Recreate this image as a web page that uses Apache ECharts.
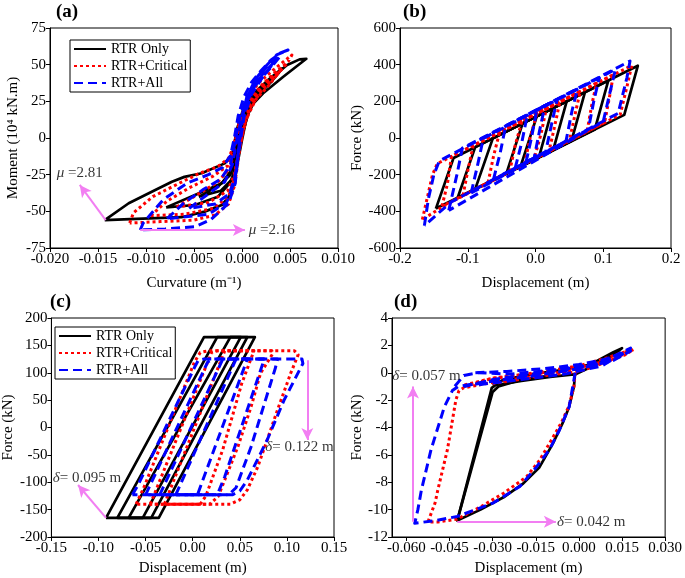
<!DOCTYPE html>
<html><head><meta charset="utf-8">
<script src="https://cdn.jsdelivr.net/npm/echarts@6/dist/echarts.min.js"></script>
<style>html,body{margin:0;padding:0;background:#fff}#c{width:685px;height:578px}</style>
</head><body><div id="c"></div>
<script>
const seriesNames = ['RTR Only', 'RTR+Critical', 'RTR+All'];
const panelTitles = ['(a)', '(b)', '(c)', '(d)'];
const xNames = ['Curvature (m\u207B\u00B9)', 'Displacement (m)', 'Displacement (m)', 'Displacement (m)'];
const yNames = ['Moment (10\u2074 kN.m)', 'Force (kN)', 'Force (kN)', 'Force (kN)'];
const dTickX = [-0.060, -0.045, -0.030, -0.015, 0.000, 0.015, 0.030];

// ---------- panel (a): moment-curvature ----------
const aOnly = [
  [[-0.0143,-56],[-0.0118,-44.5],[-0.0094,-36.6],[-0.0073,-29.8],[-0.0060,-26.5],[-0.0042,-24],[-0.0018,-17.3],[-0.0011,-11.6],[-0.0009,-8],[-0.00055,5.5],[0.0001,19],[0.0008,26],[0.0026,38.4],[0.0047,49.8],[0.0060,53.6],[0.0067,54],[0.0043,41.8],[0.0022,30.5],[0.0012,23.7],[0.0005,14.5],[0.0000,-1.4],[-0.0004,-15],[-0.0007,-27],[-0.0011,-37.7],[-0.0021,-45.7],[-0.0039,-50.2],[-0.0063,-54],[-0.0143,-56]],
  [[-0.0079,-47.3],[-0.0049,-38.9],[-0.0021,-30.9],[-0.0011,-21.8],[-0.0007,-5],[-0.0002,12],[0.0005,24],[0.0015,32],[0.0028,40],[0.0042,47.5],[0.0030,38],[0.0015,28],[0.0005,18],[-0.0002,2],[-0.0006,-14],[-0.0009,-25],[-0.0013,-31],[-0.0025,-40],[-0.0049,-45.7],[-0.0079,-47.3]],
  [[-0.0045,-40],[-0.0025,-33],[-0.0012,-25],[-0.0006,-8],[0,10],[0.0008,24],[0.0020,34],[0.0032,42],[0.0020,32],[0.0008,20],[0.0001,4],[-0.0005,-14],[-0.0010,-28],[-0.0022,-36],[-0.0045,-40]]
];
const aCritical = [
  [[-0.0117,-58],[-0.0113,-51],[-0.0093,-40],[-0.0065,-30.7],[-0.0044,-24],[-0.0026,-19.8],[-0.0014,-14],[-0.0009,-6],[-0.0004,8],[0.0002,20],[0.0008,30],[0.0018,38],[0.0032,46],[0.0045,53],[0.0052,56.6],[0.0048,52],[0.0034,43],[0.0020,34],[0.0010,25],[0.0003,12],[-0.0002,-5],[-0.0005,-20],[-0.0008,-33],[-0.0014,-45],[-0.0028,-52.5],[-0.0050,-56],[-0.0085,-57],[-0.0117,-58]],
  [[-0.0095,-53],[-0.0078,-43],[-0.0055,-34],[-0.0030,-26],[-0.0015,-19],[-0.0009,-10],[-0.0005,5],[0.0002,18],[0.0010,28],[0.0022,37],[0.0035,45],[0.0047,51],[0.0035,42],[0.0020,32],[0.0008,20],[0.0001,5],[-0.0004,-12],[-0.0008,-28],[-0.0014,-40],[-0.0030,-48],[-0.0060,-52],[-0.0095,-53]],
  [[-0.0068,-47],[-0.0045,-38],[-0.0025,-30],[-0.0012,-20],[-0.0006,0],[0.0002,16],[0.0012,28],[0.0025,38],[0.0040,46],[0.0028,36],[0.0014,26],[0.0004,12],[-0.0003,-8],[-0.0008,-25],[-0.0015,-36],[-0.0035,-44],[-0.0068,-47]]
];
const aAll = [
  [[-0.0106,-62.7],[-0.0103,-58],[-0.0082,-42],[-0.0057,-30.7],[-0.0035,-25],[-0.0020,-20],[-0.0012,-12],[-0.0008,0],[-0.0004,15],[0.0002,28],[0.0010,38],[0.0020,46],[0.0030,53],[0.0040,58],[0.0048,60],[0.0036,56.6],[0.0026,49.8],[0.0014,40],[0.0005,28],[-0.0001,10],[-0.0004,-10],[-0.0007,-30.8],[-0.0014,-44.5],[-0.0032,-55.4],[-0.0049,-60.5],[-0.0080,-62],[-0.0106,-62.7]],
  [[-0.0078,-55],[-0.0060,-44],[-0.0040,-35],[-0.0022,-28],[-0.0012,-18],[-0.0007,-2],[-0.0002,15],[0.0005,28],[0.0015,40],[0.0028,50],[0.0040,56],[0.0030,48],[0.0016,38],[0.0006,26],[0,10],[-0.0004,-10],[-0.0008,-30],[-0.0016,-44],[-0.0035,-52],[-0.0078,-55]],
  [[-0.0055,-48],[-0.0035,-38],[-0.0018,-30],[-0.0010,-18],[-0.0005,0],[0.0001,18],[0.0010,32],[0.0022,44],[0.0034,52],[0.0022,42],[0.0010,30],[0.0002,14],[-0.0003,-8],[-0.0007,-26],[-0.0013,-38],[-0.0028,-45],[-0.0055,-48]]
];

// ---------- panel (b) ----------
const bOnly = [
  [[-0.147,-385],[-0.121,-109],[0.151,394],[0.131,126],[-0.147,-385]],
  [[-0.115,-327],[-0.089,-50],[0.1075,314],[0.0875,46],[-0.115,-327]],
  [[-0.089,-279],[-0.063,-2],[0.073,250],[0.053,-17],[-0.089,-279]],
  [[-0.043,-194],[-0.019,80],[0.046,200],[0.026,-67],[-0.043,-194]],
  [[-0.022,-155],[0.002,119],[0.025,161],[0.005,-106],[-0.022,-155]]
];
const bCritical = [
  [[-0.167,-445],[-0.160,-330],[-0.152,-200],[-0.145,-140],[0.142,395],[0.135,280],[0.125,128],[-0.135,-370],[-0.167,-445]],
  [[-0.138,-372],[-0.130,-250],[-0.124,-100],[0.115,345],[0.110,240],[0.102,84],[-0.138,-372]],
  [[-0.107,-313],[-0.100,-180],[-0.092,-42],[0.090,298],[0.083,180],[0.076,34],[-0.107,-313]],
  [[-0.070,-243],[-0.062,-100],[-0.053,31],[0.066,253],[0.059,140],[0.050,-15],[-0.070,-243]],
  [[-0.038,-182],[-0.030,-40],[-0.020,93],[0.036,197],[0.028,60],[0.020,-72],[-0.038,-182]],
  [[-0.016,-140],[-0.008,0],[0.002,134],[0.016,160],[0.008,20],[-0.002,-114],[-0.016,-140]]
];
const bAll = [
  [[-0.164,-478],[-0.158,-330],[-0.150,-200],[-0.142,-125],[0.1395,420],[0.135,330],[0.122,135],[-0.125,-350],[-0.164,-478]],
  [[-0.128,-395],[-0.116,-200],[-0.108,-55],[0.118,374],[0.110,250],[0.100,90],[-0.128,-395]],
  [[-0.095,-300],[-0.085,-140],[-0.077,-2],[0.094,328],[0.086,200],[0.078,47],[-0.095,-300]],
  [[-0.062,-226],[-0.052,-80],[-0.044,66],[0.062,268],[0.054,150],[0.045,-17],[-0.062,-226]],
  [[-0.030,-164],[-0.020,-20],[-0.012,127],[0.032,211],[0.024,80],[0.015,-76],[-0.030,-164]],
  [[-0.014,-132],[-0.006,0],[0.002,154],[0.014,177],[0.006,40],[-0.002,-109],[-0.014,-132]]
];

// ---------- panel (c) ----------
const cOnly = [
  [[-0.092,-165],[0.012,165],[0.066,165],[-0.036,-165],[-0.092,-165]],
  [[-0.080,-165],[0.026,165],[0.058,165],[-0.044,-165],[-0.080,-165]],
  [[-0.068,-165],[0.040,165],[0.051,165],[-0.053,-165],[-0.068,-165]]
];
const cCritical = [
  [[-0.060,-140],[-0.052,-110],[0.002,120],[0.008,137],[0.016,140],[0.108,140],[0.112,133],[0.104,99],[0.090,32],[0.079,-23],[0.069,-72],[0.058,-114],[0.050,-132],[0.040,-140],[-0.060,-140]],
  [[-0.045,-140],[0.020,137],[0.026,140],[0.084,140],[0.085,135],[0.072,99],[0.062,38],[0.048,-35],[0.034,-96],[0.027,-126],[0.018,-140],[-0.045,-140]],
  [[-0.030,-140],[0.034,140],[0.065,140],[0.052,80],[0.032,-40],[0.014,-125],[0.008,-140],[-0.030,-140]]
];
const cAll = [
  [[-0.064,-123],[-0.058,-105],[0.002,110],[0.006,123],[0.012,125],[0.116,125],[0.117,117],[0.097,50],[0.079,-23],[0.058,-96],[0.050,-116],[0.042,-123],[-0.064,-123]],
  [[-0.050,-123],[0.016,120],[0.022,125],[0.090,125],[0.088,110],[0.062,-35],[0.046,-110],[0.038,-123],[-0.050,-123]],
  [[-0.035,-123],[0.032,125],[0.076,125],[0.034,-90],[0.026,-123],[-0.035,-123]],
  [[-0.018,-123],[0.046,125],[0.058,125],[0.005,-123],[-0.018,-123]]
];

// ---------- panel (d) ----------
const dOnly = [
  [[-0.0013,0.0],[-0.0017,-1.0],[-0.0034,-2.5],[-0.0057,-3.7],[-0.0091,-5.2],[-0.0137,-6.9],[-0.0194,-8.1],[-0.0262,-9.1],[-0.0342,-10.0],[-0.0423,-10.8],[-0.0303,-1.1],[-0.0290,-0.9],[-0.020,-0.6],[-0.010,-0.3],[-0.001,-0.1],[0.006,0.6],[0.012,1.3],[0.015,1.8],[0.012,1.5],[0.004,0.6],[-0.006,0.2],[-0.016,-0.1],[-0.026,-0.5],[-0.030,-0.9]],
  [[-0.0423,-10.8],[-0.0300,-1.4],[-0.0280,-1.0],[-0.020,-0.5],[-0.010,-0.2]]
];
const dCritical = [
  [[-0.0013,0],[-0.0017,-1.0],[-0.0034,-2.4],[-0.0060,-3.6],[-0.0095,-4.9],[-0.0137,-6.4],[-0.0182,-7.6],[-0.0262,-8.8],[-0.0342,-9.8],[-0.0424,-10.7],[-0.0490,-10.9],[-0.0525,-10.9],[-0.0500,-9.5],[-0.0491,-8.6],[-0.0457,-5.6],[-0.0428,-2.0],[-0.0417,-1.3],[-0.0400,-1.1],[-0.030,-0.7],[-0.020,-0.4],[-0.010,-0.1],[0.000,0.3],[0.008,0.8],[0.015,1.3],[0.019,1.7],[0.016,1.3],[0.008,0.7],[0.000,0.4],[-0.010,0.1],[-0.020,-0.2],[-0.030,-0.4],[-0.040,-0.9]],
  [[-0.040,-1.0],[-0.030,-0.4],[-0.015,0.0],[0.000,0.5],[0.010,1.1],[0.017,1.6],[0.010,0.8],[0.000,0.1],[-0.015,-0.3],[-0.030,-0.8]]
];
const dAll = [
  [[-0.0013,0],[-0.0017,-0.5],[-0.0034,-2.5],[-0.0068,-4.2],[-0.0102,-5.6],[-0.0148,-6.9],[-0.0205,-8.3],[-0.0297,-9.5],[-0.0423,-10.5],[-0.0500,-10.8],[-0.0571,-11.0],[-0.0560,-10.0],[-0.0548,-8.6],[-0.0514,-5.6],[-0.0468,-2.5],[-0.0440,-1.3],[-0.0420,-1.0],[-0.030,-0.6],[-0.020,-0.3],[-0.010,0.0],[0.000,0.3],[0.008,0.8],[0.014,1.4],[0.018,1.8],[0.014,1.2],[0.006,0.6],[-0.004,0.3],[-0.014,0.1],[-0.024,-0.1],[-0.035,0.0],[-0.040,-0.2],[-0.044,-1.2]],
  [[-0.040,-1.0],[-0.030,-0.5],[-0.010,0.1],[0.005,0.7],[0.012,1.2],[0.018,1.6],[0.012,0.9],[0.000,0.3],[-0.015,-0.2],[-0.030,-0.6],[-0.040,-1.0]],
  [[-0.036,0.0],[-0.025,0.1],[-0.012,0.3],[0.000,0.6],[0.010,1.0],[0.016,1.5],[0.008,0.5],[-0.005,-0.1],[-0.020,-0.5],[-0.036,-0.9]]
];

// ---------- annotations ----------
const arrows = [
  {panel: 0, from: [-0.0142, -56], to: [-0.0169, -32]},
  {panel: 0, from: [-0.0106, -62.7], to: [0.0003, -62.7]},
  {panel: 2, from: [-0.092, -165], to: [-0.1217, -105]},
  {panel: 2, from: [0.1217, 123], to: [0.1217, -23]},
  {panel: 3, from: [-0.0577, -10.88], to: [-0.0577, -1.0]},
  {panel: 3, from: [-0.0423, -10.88], to: [-0.0080, -10.88]}
];
const notes = [
  {panel: 0, at: [-0.0169, -23.9], sym: '\u03BC', text: ' =2.81'},
  {panel: 0, at: [0.0031, -62.7], sym: '\u03BC', text: ' =2.16'},
  {panel: 2, at: [-0.1122, -92], sym: '\u03B4', text: '= 0.095 m'},
  {panel: 2, at: [0.1133, -35.6], sym: '\u03B4', text: '= 0.122 m'},
  {panel: 3, at: [-0.0530, -0.24], sym: '\u03B4', text: '= 0.057 m'},
  {panel: 3, at: [0.0043, -10.9], sym: '\u03B4', text: '= 0.042 m'}
];

const FONT = 'Liberation Serif';
const PINK = '#f27ef2';
const grids = [
  {left: 50, top: 28, width: 288, height: 220},
  {left: 400, top: 28, width: 271, height: 220},
  {left: 48, top: 318, width: 286, height: 219},
  {left: 392, top: 318, width: 277, height: 219}
];
const xCfg = [
  {min: -0.02, max: 0.01, interval: 0.005, dec: 3},
  {min: -0.2, max: 0.2, interval: 0.1, dec: 1},
  {min: -0.15, max: 0.15, interval: 0.05, dec: 2},
  {min: -0.065, max: 0.03, dec: 3, custom: dTickX}
];
const yCfg = [
  {min: -75, max: 75, interval: 25},
  {min: -600, max: 600, interval: 200},
  {min: -200, max: 200, interval: 50},
  {min: -12, max: 4, interval: 2}
];
const xGap = [28, 28, 24, 24];
const yGap = [29, 35, 30, 21];

const styles = [
  {color: '#000000', width: 2.7, type: 'solid'},
  {color: '#ff0000', width: 3, type: [3, 3]},
  {color: '#0000ff', width: 3, type: [9, 5]}
];

const panels = [
  [aOnly, aCritical, aAll],
  [bOnly, bCritical, bAll],
  [cOnly, cCritical, cAll],
  [dOnly, dCritical, dAll]
];

const series = [];
panels.forEach((sets, p) => {
  sets.forEach((loops, s) => {
    loops.forEach(loop => {
      series.push({
        type: 'line', name: seriesNames[s], xAxisIndex: p, yAxisIndex: p,
        data: loop, symbol: 'none', smooth: false, silent: true, animation: false,
        lineStyle: {color: styles[s].color, width: styles[s].width, type: styles[s].type, cap: 'butt', join: 'round'},
        itemStyle: {color: styles[s].color},
        z: 2 + s
      });
    });
  });
});
// arrows and notes
for (let p = 0; p < 4; p++) {
  const list = arrows.filter(a => a.panel === p);
  if (list.length) {
    series.push({
      type: 'line', xAxisIndex: p, yAxisIndex: p, data: [], symbol: 'none', silent: true, animation: false, z: 6,
      markLine: {
        silent: true, animation: false, symbol: ['none', 'arrow'], symbolSize: [9, 12],
        lineStyle: {color: PINK, width: 2, type: 'solid'}, label: {show: false},
        data: list.map(a => [{coord: a.from}, {coord: a.to}])
      }
    });
  }
  const nl = notes.filter(n => n.panel === p);
  if (nl.length) {
    series.push({
      type: 'scatter', xAxisIndex: p, yAxisIndex: p, symbolSize: 0, silent: true, animation: false, z: 7,
      data: nl.map(n => ({value: n.at, name: n.sym + '|' + n.text})),
      label: {
        show: true, position: 'inside', color: '#000', fontFamily: FONT, fontSize: 15,
        formatter: prm => { const t = prm.name.split('|'); return '{i|' + t[0] + '}' + t[1]; },
        rich: {i: {fontStyle: 'italic', fontFamily: FONT, fontSize: 15, color: '#000'}}
      }
    });
  }
}

const axisBase = {
  axisLine: {show: true, onZero: false, lineStyle: {color: '#000', width: 1}},
  axisTick: {show: true, inside: false, length: 4, lineStyle: {color: '#000'}},
  splitLine: {show: false}
};
const xAxis = xCfg.map((c, i) => {
  const ax = Object.assign({}, axisBase, {
    type: 'value', gridIndex: i, min: c.min, max: c.max,
    name: xNames[i], nameLocation: 'middle', nameGap: xGap[i],
    nameTextStyle: {fontFamily: FONT, fontSize: 15, color: '#000'},
    axisLabel: {color: '#000', fontFamily: FONT, fontSize: 15, margin: 4, formatter: v => Number(v).toFixed(c.dec)}
  });
  if (c.custom) {
    ax.axisLabel.customValues = c.custom;
    ax.axisTick = Object.assign({}, axisBase.axisTick, {customValues: c.custom});
  } else {
    ax.interval = c.interval;
  }
  return ax;
});
const yAxis = yCfg.map((c, i) => Object.assign({}, axisBase, {
  type: 'value', gridIndex: i, min: c.min, max: c.max, interval: c.interval,
  name: yNames[i], nameLocation: 'middle', nameGap: yGap[i], nameRotate: 90,
  nameTextStyle: {fontFamily: FONT, fontSize: 15, color: '#000'},
  axisLabel: {color: '#000', fontFamily: FONT, fontSize: 15, margin: 4}
}));

const legendBase = {
  data: seriesNames, orient: 'vertical', itemWidth: 32, itemHeight: 14, itemGap: 3,
  padding: [2, 3, 2, 3], borderColor: '#000', borderWidth: 1, backgroundColor: '#fff',
  textStyle: {fontFamily: FONT, fontSize: 14, color: '#000'},
  itemStyle: {opacity: 0},
  selectedMode: false
};
const titlePos = [[56, 3], [403, 3], [50, 293], [394, 293]];

const chart = echarts.init(document.getElementById('c'), null, {renderer: 'canvas'});
chart.setOption({
  animation: false,
  backgroundColor: '#fff',
  grid: grids.map(g => Object.assign({show: true, borderColor: '#000', borderWidth: 1, backgroundColor: 'transparent'}, g)),
  xAxis: xAxis,
  yAxis: yAxis,
  legend: [
    Object.assign({left: 70, top: 40}, legendBase),
    Object.assign({left: 55, top: 327}, legendBase)
  ],
  graphic: panelTitles.map((t, i) => ({
    type: 'text', left: titlePos[i][0], top: titlePos[i][1],
    style: {text: t, font: 'bold 19px "Liberation Serif"', fill: '#000'}
  })),
  series: series
});
</script></body></html>
